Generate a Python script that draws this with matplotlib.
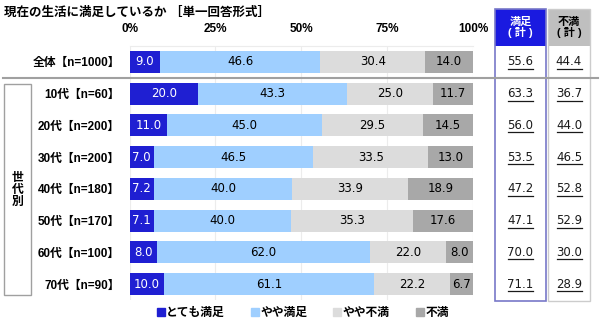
import matplotlib
matplotlib.use("Agg")
import matplotlib.pyplot as plt
from matplotlib.patches import Rectangle
from matplotlib.lines import Line2D
from matplotlib.transforms import blended_transform_factory, offset_copy

plt.rcParams['font.family'] = ['Liberation Sans', 'Noto Sans CJK JP', 'DejaVu Sans']
NUM_FONT = ['DejaVu Sans']

title = "現在の生活に満足しているか ［単一回答形式］"
categories = ["全体【n=1000】", "10代【n=60】", "20代【n=200】", "30代【n=200】",
              "40代【n=180】", "50代【n=170】", "60代【n=100】", "70代【n=90】"]
series_names = ["とても満足", "やや満足", "やや不満", "不満"]
very_satisfied = [9.0, 20.0, 11.0, 7.0, 7.2, 7.1, 8.0, 10.0]
somewhat_satisfied = [46.6, 43.3, 45.0, 46.5, 40.0, 40.0, 62.0, 61.1]
somewhat_dissatisfied = [30.4, 25.0, 29.5, 33.5, 33.9, 35.3, 22.0, 22.2]
dissatisfied = [14.0, 11.7, 14.5, 13.0, 18.9, 17.6, 8.0, 6.7]
satisfied_total = [55.6, 63.3, 56.0, 53.5, 47.2, 47.1, 70.0, 71.1]
dissatisfied_total = [44.4, 36.7, 44.0, 46.5, 52.8, 52.9, 30.0, 28.9]
xticks = [0, 25, 50, 75, 100]
xticklabels = ["0%", "25%", "50%", "75%", "100%"]
group_label = "世\n代\n別"
header_labels = ["満足\n( 計 )", "不満\n( 計 )"]

colors = ['#1f1fd2', '#9fcfff', '#dcdcdc', '#a8a8a8']
text_colors = ['white', 'black', 'black', 'black']
header_blue = '#1a1ae0'
header_gray = '#bfbfbf'

W, H = 600, 327
fig = plt.figure(figsize=(W / 100, H / 100), dpi=100)

def fx(x):
    return x / W

def fy(y):
    return 1 - y / H

ax = fig.add_axes([fx(129.5), fy(300), 343.5 / W, 254 / H])
ax.set_xlim(0, 100)
ax.set_ylim(len(categories) - 0.5, -0.5)

ypos = list(range(len(categories)))
series = [very_satisfied, somewhat_satisfied, somewhat_dissatisfied, dissatisfied]
lefts = [0.0] * len(categories)
for vals, c, tc in zip(series, colors, text_colors):
    ax.barh(ypos, vals, left=lefts, height=0.69, color=c, edgecolor='none', zorder=2)
    for y, l, v in zip(ypos, lefts, vals):
        ax.text(l + v / 2, y, f"{v:.1f}", ha='center', va='center',
                fontsize=8.5, color=tc, zorder=3, family=NUM_FONT)
    lefts = [l + v for l, v in zip(lefts, vals)]

ax.set_yticks(ypos)
ax.set_yticklabels(categories, fontsize=8.5, fontweight='bold')
ax.tick_params(axis='y', length=0, pad=7)
ax.xaxis.tick_top()
ax.set_xticks(xticks)
ax.set_xticklabels(xticklabels, fontsize=8.5, fontweight='bold')
ax.tick_params(axis='x', length=0, pad=8)
ax.grid(axis='x', color='#ececec', lw=0.8, zorder=0)
for s in ['left', 'right', 'bottom']:
    ax.spines[s].set_visible(False)
ax.spines['top'].set_color('#ececec')
ax.spines['top'].set_linewidth(0.8)

# title
fig.text(fx(4), fy(13), title, fontsize=9, fontweight='bold', va='center', ha='left')

# summary table boxes
fig.add_artist(Rectangle((fx(495), fy(46)), 51 / W, 37 / H, transform=fig.transFigure,
                         facecolor=header_blue, edgecolor='none'))
fig.add_artist(Rectangle((fx(495), fy(301)), 51 / W, 292 / H, transform=fig.transFigure,
                         facecolor='none', edgecolor='#7878c8', lw=1.2))
fig.add_artist(Rectangle((fx(548), fy(46)), 42 / W, 37 / H, transform=fig.transFigure,
                         facecolor=header_gray, edgecolor='none'))
fig.add_artist(Rectangle((fx(548), fy(301)), 42 / W, 292 / H, transform=fig.transFigure,
                         facecolor='none', edgecolor='#cccccc', lw=1.0))
fig.text(fx(520.5), fy(27.5), header_labels[0], ha='center', va='center', fontsize=8,
         fontweight='bold', color='white', linespacing=1.05)
fig.text(fx(569), fy(27.5), header_labels[1], ha='center', va='center', fontsize=8,
         fontweight='bold', color='black', linespacing=1.05)

tr = blended_transform_factory(fig.transFigure, ax.transData)
tr_ul = offset_copy(tr, fig=fig, y=-7, units='dots')
for y, s, d in zip(ypos, satisfied_total, dissatisfied_total):
    for xc, v in ((520.5, s), (569, d)):
        ax.text(fx(xc), y, f"{v:.1f}", transform=tr, family=NUM_FONT,
                ha='center', va='center', fontsize=8.5, color='#1a1a1a')
        ax.add_line(Line2D([fx(xc - 12.5), fx(xc + 12.5)], [y, y], transform=tr_ul,
                           color='#1a1a1a', lw=0.9, clip_on=False))

# separator between total and age groups
sep_y = ax.transData.transform((0, 0.5))[1]
sep_y_fig = fig.transFigure.inverted().transform((0, sep_y))[1]
fig.add_artist(Line2D([fx(3), fx(598)], [sep_y_fig, sep_y_fig], transform=fig.transFigure,
                      color='#a0a0a0', lw=1.5))

# group bracket
fig.add_artist(Rectangle((fx(4), fy(295)), 27 / W, 211 / H, transform=fig.transFigure,
                         facecolor='none', edgecolor='#a0a0a0', lw=1.0))
fig.text(fx(17.5), fy(190), group_label, ha='center', va='center', fontsize=8.5,
         fontweight='bold', linespacing=1.05)

# legend
handles = [Line2D([], [], marker='s', linestyle='none', markersize=5.5, color=c)
           for c in colors]
fig.legend(handles, series_names, loc='center', bbox_to_anchor=(fx(303), fy(313)),
           ncol=4, frameon=False, handlelength=0.6, handletextpad=0.15,
           columnspacing=2.25, prop={'size': 8.5, 'weight': 'bold'})

fig.savefig("out.png", dpi=100)
